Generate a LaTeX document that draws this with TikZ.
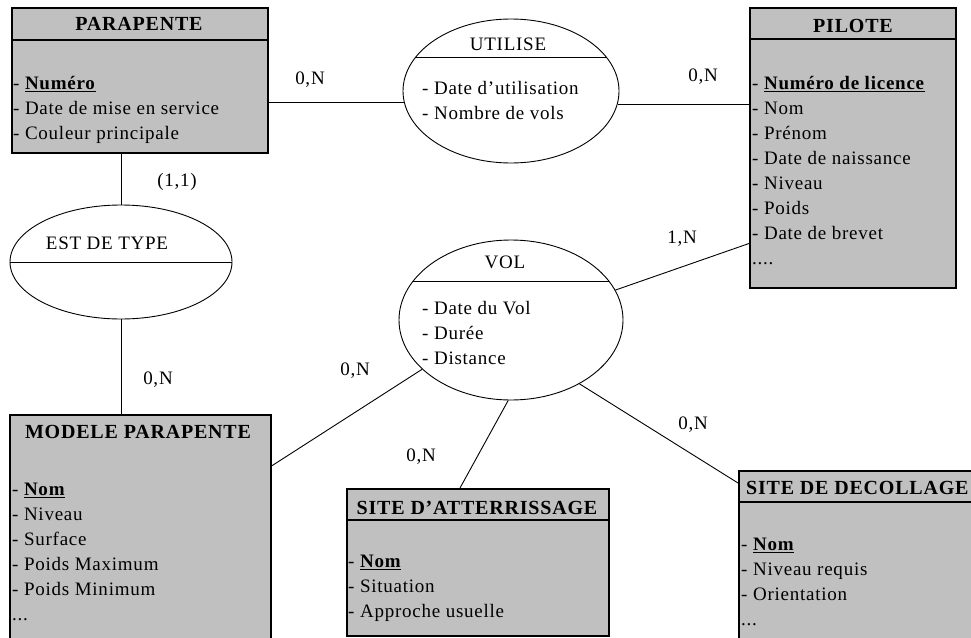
\documentclass[tikz,border=0pt]{standalone}
\usepackage{fontspec}
\setmainfont{Liberation Serif}[LetterSpace=4]
\usetikzlibrary{shapes.geometric}
\definecolor{boxgray}{RGB}{192,192,192}
\tikzset{
  entity/.style={draw=black,line width=1.5pt,fill=boxgray,anchor=north west,inner sep=0pt},
  assoc/.style={draw=black,line width=0.9pt,fill=white,ellipse,inner sep=0pt},
  titre/.style={font=\fontsize{20}{24}\selectfont\bfseries,inner sep=0pt},
  nomassoc/.style={font=\fontsize{19}{23}\selectfont,inner sep=0pt},
  attrs/.style={font=\fontsize{19}{25}\selectfont,align=left,anchor=north west,inner sep=0pt},
  card/.style={font=\fontsize{19}{23}\selectfont,inner sep=0pt},
  lien/.style={line width=0.9pt},
  sep/.style={line width=1.5pt}
}
\begin{document}
\begin{tikzpicture}[x=1pt,y=-1pt]
	\useasboundingbox (0,0) rectangle (971,637);
	\clip (0,0) rectangle (971,637);
	\node[entity,minimum width=256pt,minimum height=145pt] (parapente) at (11,7) {};
	\node[entity,minimum width=206pt,minimum height=280pt] (pilote) at (749,7) {};
	\node[entity,minimum width=261pt,minimum height=240pt] (modele) at (9,414) {};
	\node[entity,minimum width=262pt,minimum height=147pt] (atter) at (346,488) {};
	\node[entity,minimum width=250pt,minimum height=180pt] (deco) at (738,470) {};
	\node[assoc,minimum width=216pt,minimum height=144pt] (utilise) at (511,91) {};
	\node[assoc,minimum width=222pt,minimum height=114pt] (estype) at (121,262) {};
	\node[assoc,minimum width=224pt,minimum height=160pt] (vol) at (511,320) {};
	\draw[lien] (parapente.east |- utilise.186) -- (utilise.186);
	\draw[lien] (utilise.353) -- (utilise.353 -| pilote.west);
	\draw[lien] (estype.north |- parapente.south) -- (estype.north);
	\draw[lien] (estype.south) -- (estype.south |- modele.north);
	\draw[lien] (vol.16) -- ([yshift=45pt]pilote.south west);
	\draw[lien] (vol.209) -- ([yshift=-52pt]modele.north east);
	\draw[lien] (vol.268) -- ([xshift=114pt]atter.north west);
	\draw[lien] (vol.317) -- ([yshift=-13pt]deco.north west);
	\draw[sep] ([yshift=-33pt]parapente.north west) -- ([yshift=-33pt]parapente.north east);
	\draw[sep] ([yshift=-32pt]pilote.north west) -- ([yshift=-32pt]pilote.north east);
	\draw[sep] ([yshift=-32pt]atter.north west) -- ([yshift=-32pt]atter.north east);
	\draw[sep] ([yshift=-32pt]deco.north west) -- ([yshift=-32pt]deco.north east);
	\draw[lien] ([xshift=-95pt,yshift=34pt]utilise.center) -- ([xshift=95pt,yshift=34pt]utilise.center);
	\draw[lien] (estype.west) -- (estype.east);
	\draw[lien] ([xshift=-98pt,yshift=39pt]vol.center) -- ([xshift=98pt,yshift=39pt]vol.center);
	\node[titre] (tparapente) at (139,24) {PARAPENTE};
	\node[titre] (tpilote) at (853,26) {PILOTE};
	\node[titre] (tmodele) at (138,432) {MODELE PARAPENTE};
	\node[titre] (tatter) at (477,508) {SITE D’ATTERRISSAGE};
	\node[titre,anchor=west] (tdeco) at (746,488) {SITE DE DECOLLAGE};
	\node[nomassoc] (tutilise) at (508,44) {UTILISE};
	\node[nomassoc] (testype) at (107,243) {EST DE TYPE};
	\node[nomassoc] (tvol) at (505,262) {VOL};
	\node[attrs] (aparapente) at (13,76) {- \underline{\textbf{Numéro}}\\- Date de mise en service\\- Couleur principale};
	\node[attrs] (apilote) at (752,76) {- \underline{\textbf{Numéro de licence}}\\- Nom\\- Prénom\\- Date de naissance\\- Niveau\\- Poids\\- Date de brevet\\....};
	\node[attrs] (amodele) at (12,483) {- \underline{\textbf{Nom}}\\- Niveau\\- Surface\\- Poids Maximum\\- Poids Minimum\\...};
	\node[attrs] (aatter) at (348,555) {- \underline{\textbf{Nom}}\\- Situation\\- Approche usuelle};
	\node[attrs] (adeco) at (741,538) {- \underline{\textbf{Nom}}\\- Niveau requis\\- Orientation\\...};
	\node[attrs] (autilise) at (422,81) {- Date d’utilisation\\- Nombre de vols};
	\node[attrs] (avol) at (422,301) {- Date du Vol\\- Durée\\- Distance};
	\node[card] (c1) at (310,80) {0,N};
	\node[card] (c2) at (703,77) {0,N};
	\node[card] (c3) at (177,182) {(1,1)};
	\node[card] (c4) at (682,239) {1,N};
	\node[card] (c5) at (158,380) {0,N};
	\node[card] (c6) at (355,371) {0,N};
	\node[card] (c7) at (421,457) {0,N};
	\node[card] (c8) at (693,425) {0,N};
\end{tikzpicture}
\end{document}
